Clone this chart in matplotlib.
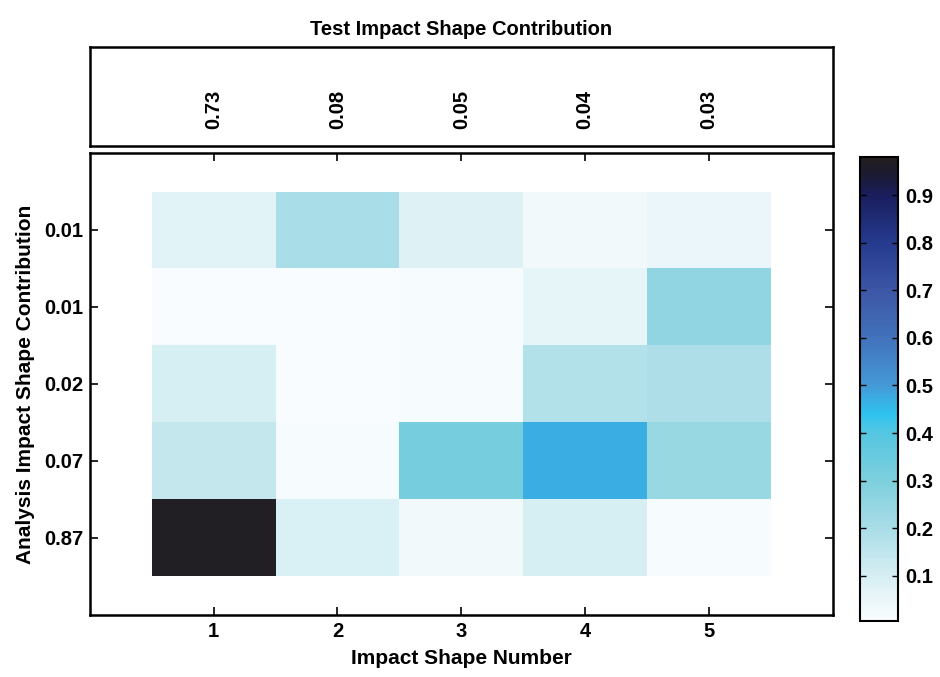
import matplotlib

matplotlib.use("Agg")
import matplotlib.pyplot as plt
import numpy as np
from matplotlib.colors import LinearSegmentedColormap

plt.rcParams["font.family"] = ["Liberation Sans", "DejaVu Sans"]
plt.rcParams["font.weight"] = "bold"

shape_numbers = [1, 2, 3, 4, 5]
test_contrib = ["0.73", "0.08", "0.05", "0.04", "0.03"]
analysis_contrib = ["0.01", "0.01", "0.02", "0.07", "0.87"]

# rows top -> bottom, columns shape 1..5
values = np.array([
    [0.07, 0.20, 0.08, 0.03, 0.05],
    [0.01, 0.01, 0.02, 0.06, 0.26],
    [0.10, 0.01, 0.02, 0.18, 0.19],
    [0.14, 0.02, 0.32, 0.47, 0.24],
    [0.97, 0.09, 0.03, 0.10, 0.02],
])

VMIN, VMAX = 0.005, 0.98
cbar_ticks = [0.1, 0.2, 0.3, 0.4, 0.5, 0.6, 0.7, 0.8, 0.9]

# colormap anchors (data value, colour)
anchors = [
    (0.005, "#fbfdfe"),
    (0.10, "#d5eef3"),
    (0.20, "#a9dde7"),
    (0.30, "#7dcfdd"),
    (0.40, "#55c6e2"),
    (0.44, "#2ec3ef"),
    (0.50, "#4499d6"),
    (0.60, "#4272bb"),
    (0.70, "#3d56a6"),
    (0.80, "#263b8f"),
    (0.90, "#1a1e5e"),
    (0.95, "#1c1a2e"),
    (0.98, "#231f20"),
]
cmap = LinearSegmentedColormap.from_list(
    "impact", [((v - VMIN) / (VMAX - VMIN), c) for v, c in anchors])

fig = plt.figure(figsize=(9.4, 6.77), dpi=100)
ax_top = fig.add_axes([0.0957, 0.7843, 0.790, 0.1462])
ax = fig.add_axes([0.0957, 0.0916, 0.790, 0.6824])
cax = fig.add_axes([0.915, 0.0827, 0.0404, 0.6854])

x = np.arange(len(shape_numbers) + 1) + 0.5
y = np.arange(len(analysis_contrib) + 1) + 0.5
mesh = ax.pcolormesh(x, y, values, cmap=cmap, vmin=VMIN, vmax=VMAX)
ax.set_xlim(0, 6)
ax.set_ylim(6, 0)
ax.set_xticks(shape_numbers)
ax.set_xticklabels([str(n) for n in shape_numbers])
ax.set_yticks(range(1, len(analysis_contrib) + 1))
ax.set_yticklabels(analysis_contrib)
ax.tick_params(direction="in", length=6, width=1.2, labelsize=14.5,
               top=True, right=True, pad=5)
for s in ax.spines.values():
    s.set_linewidth(1.8)
ax.set_xlabel("Impact Shape Number", fontsize=15, fontweight="bold", labelpad=6)
ax.set_ylabel("Analysis Impact Shape Contribution", fontsize=15, fontweight="bold", labelpad=6)

ax_top.set_xlim(0, 6)
ax_top.set_ylim(0, 1)
ax_top.set_xticks([])
ax_top.set_yticks([])
for s in ax_top.spines.values():
    s.set_linewidth(1.8)
for xi, lab in zip(shape_numbers, test_contrib):
    ax_top.text(xi, 0.37, lab, rotation=90, ha="center", va="center",
                fontsize=14.5, fontweight="bold")
ax_top.set_title("Test Impact Shape Contribution", fontsize=14.5, fontweight="bold", pad=9)

cb = fig.colorbar(mesh, cax=cax)
cb.set_ticks(cbar_ticks)
cb.ax.tick_params(direction="in", length=4, width=1, labelsize=14.5,
                  left=True, right=True, pad=5)
cb.outline.set_linewidth(1.5)

fig.savefig("out.png", dpi=100)
